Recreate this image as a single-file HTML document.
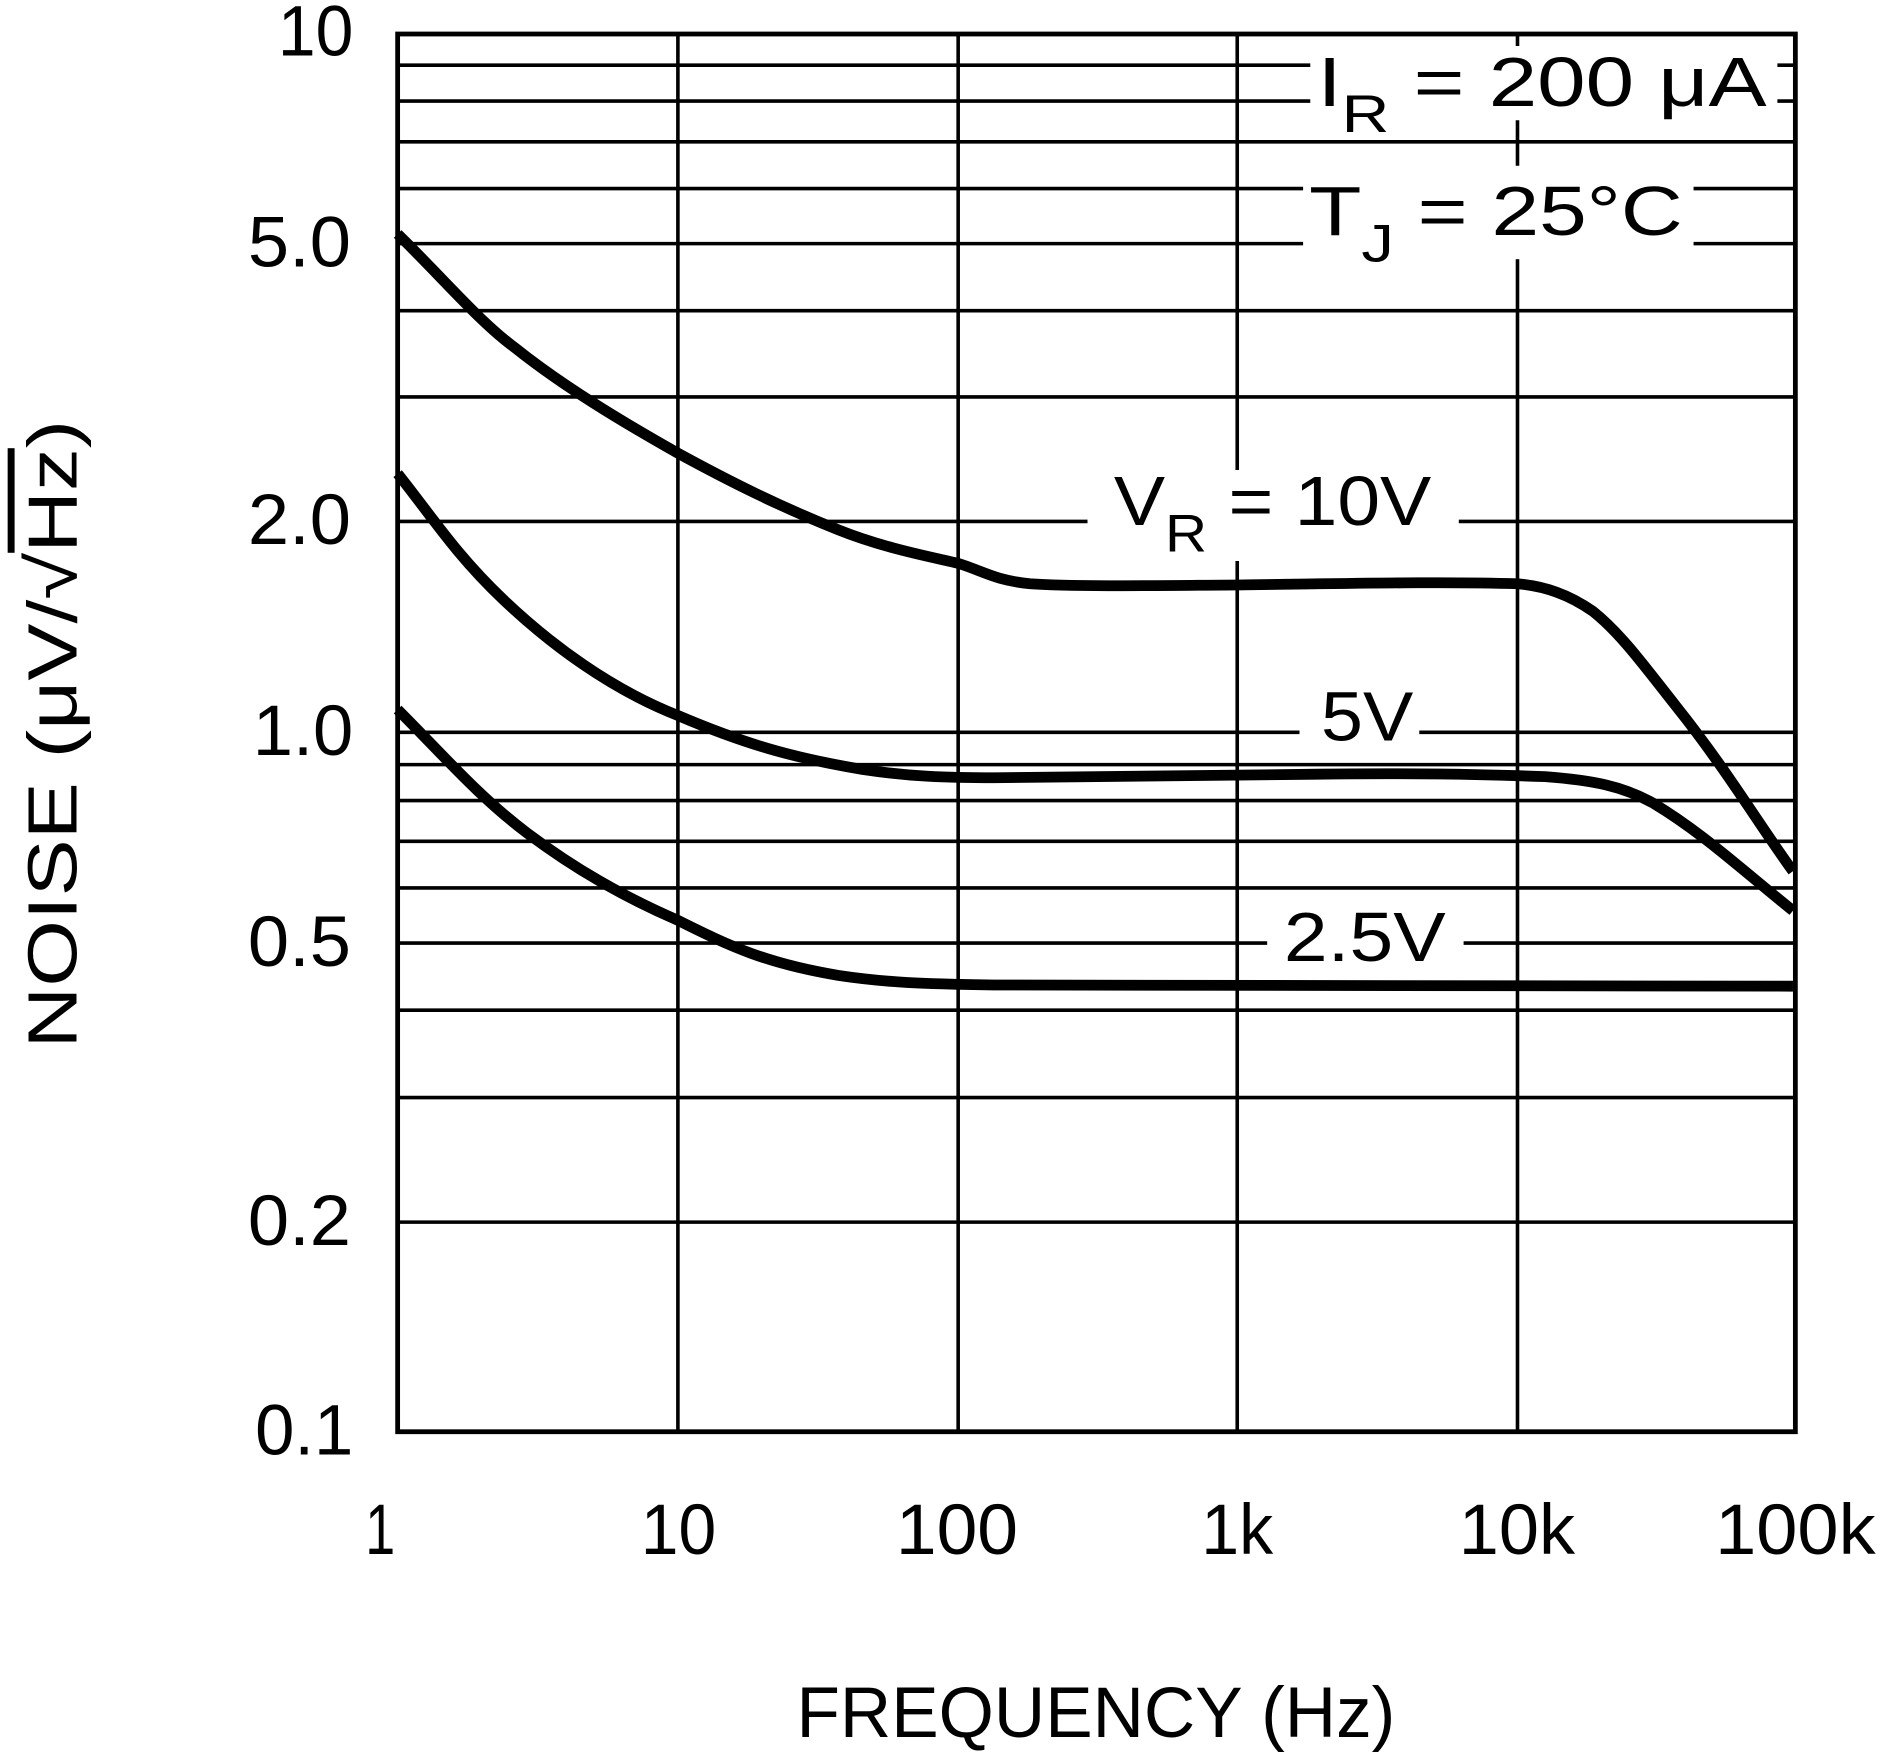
<!DOCTYPE html>
<html><head><meta charset="utf-8"><style>
html,body{margin:0;padding:0;background:#fff;}
svg{display:block;}
text{font-family:"Liberation Sans",sans-serif;fill:#000;}
</style></head><body>
<svg width="1878" height="1752" viewBox="0 0 1568 1462" xmlns="http://www.w3.org/2000/svg">
<rect width="1568" height="1462" fill="#fff"/>
<g stroke="#000" stroke-width="3">
<line x1="332" x2="1499" y1="54" y2="54"/>
<line x1="332" x2="1499" y1="84" y2="84"/>
<line x1="332" x2="1499" y1="118" y2="118"/>
<line x1="332" x2="1499" y1="157" y2="157"/>
<line x1="332" x2="1499" y1="203" y2="203"/>
<line x1="332" x2="1499" y1="259" y2="259"/>
<line x1="332" x2="1499" y1="331" y2="331"/>
<line x1="332" x2="1499" y1="435" y2="435"/>
<line x1="332" x2="1499" y1="611" y2="611"/>
<line x1="332" x2="1499" y1="638" y2="638"/>
<line x1="332" x2="1499" y1="668" y2="668"/>
<line x1="332" x2="1499" y1="702" y2="702"/>
<line x1="332" x2="1499" y1="741" y2="741"/>
<line x1="332" x2="1499" y1="787" y2="787"/>
<line x1="332" x2="1499" y1="843" y2="843"/>
<line x1="332" x2="1499" y1="916" y2="916"/>
<line x1="332" x2="1499" y1="1020" y2="1020"/>
<line x1="566" x2="566" y1="28" y2="1195"/>
<line x1="800" x2="800" y1="28" y2="1195"/>
<line x1="1033" x2="1033" y1="28" y2="1195"/>
<line x1="1267" x2="1267" y1="28" y2="1195"/>
</g>
<rect x="332" y="28" width="1167" height="1167" fill="none" stroke="#000" stroke-width="4"/>
<g fill="#fff">
<rect x="1094" y="38" width="390" height="62"/>
<rect x="1088" y="138" width="326" height="78"/>
<rect x="908" y="392" width="310" height="76"/>
<rect x="1085" y="572" width="100" height="56"/>
<rect x="1058" y="750" width="164" height="62"/>
</g>
<g fill="none" stroke="#000" stroke-width="9" stroke-linejoin="round" stroke-linecap="butt">
<path d="M332,195 C370,232 400,268 430,290 C470,322 520,352 566,378 C610,402 650,422 700,442 C740,458 780,465 800,470 C820,476 830,484 860,487 C900,490 1000,488 1033,488 C1120,487 1200,485 1267,487 C1290,489 1310,496 1330,510 C1350,526 1365,545 1400,590 C1440,640 1470,690 1497,727"/>
<path d="M332,395 C360,430 380,462 420,500 C460,538 510,575 566,597 C620,620 660,632 720,642 C760,648 790,649 830,649 C900,649 1000,647 1100,646 C1180,645 1230,646 1290,648 C1330,651 1355,656 1380,670 C1420,694 1450,722 1497,760"/>
<path d="M332,592 C370,630 400,665 440,695 C480,725 520,748 566,768 C610,790 640,804 700,814 C740,820 770,821 830,822 C950,823 1100,823 1497,823"/>
</g>
<g font-size="60" lengthAdjust="spacingAndGlyphs">
<text x="232" y="46" textLength="63" lengthAdjust="spacingAndGlyphs">10</text>
<text x="207" y="222" textLength="86" lengthAdjust="spacingAndGlyphs">5.0</text>
<text x="207" y="454" textLength="86" lengthAdjust="spacingAndGlyphs">2.0</text>
<text x="211" y="630" textLength="84" lengthAdjust="spacingAndGlyphs">1.0</text>
<text x="207" y="806" textLength="86" lengthAdjust="spacingAndGlyphs">0.5</text>
<text x="207" y="1039" textLength="86" lengthAdjust="spacingAndGlyphs">0.2</text>
<text x="213" y="1214" textLength="82" lengthAdjust="spacingAndGlyphs">0.1</text>
<text x="305" y="1297" textLength="25" lengthAdjust="spacingAndGlyphs">1</text>
<text x="535" y="1297" textLength="63" lengthAdjust="spacingAndGlyphs">10</text>
<text x="748" y="1297" textLength="102" lengthAdjust="spacingAndGlyphs">100</text>
<text x="1003" y="1297" textLength="60" lengthAdjust="spacingAndGlyphs">1k</text>
<text x="1218" y="1297" textLength="97" lengthAdjust="spacingAndGlyphs">10k</text>
<text x="1432" y="1297" textLength="134" lengthAdjust="spacingAndGlyphs">100k</text>
<text x="665" y="1450" textLength="500" lengthAdjust="spacingAndGlyphs">FREQUENCY (Hz)</text>
</g>
<text transform="translate(64,875) rotate(-90)" font-size="58" textLength="525" lengthAdjust="spacingAndGlyphs">NOISE (μV/√<tspan text-decoration="overline">Hz</tspan>)</text>
<g font-size="58">
<text x="1100" y="88" textLength="375" lengthAdjust="spacingAndGlyphs">I<tspan font-size="44" dy="22">R</tspan><tspan dy="-22"> = 200 μA</tspan></text>
<text x="1093" y="196" textLength="312" lengthAdjust="spacingAndGlyphs">T<tspan font-size="44" dy="22">J</tspan><tspan dy="-22"> = 25°C</tspan></text>
<text x="930" y="438" textLength="265" lengthAdjust="spacingAndGlyphs">V<tspan font-size="44" dy="22">R</tspan><tspan dy="-22"> = 10V</tspan></text>
<text x="1103" y="618" textLength="77" lengthAdjust="spacingAndGlyphs">5V</text>
<text x="1072" y="802" textLength="135" lengthAdjust="spacingAndGlyphs">2.5V</text>
</g>
</svg>
</body></html>
